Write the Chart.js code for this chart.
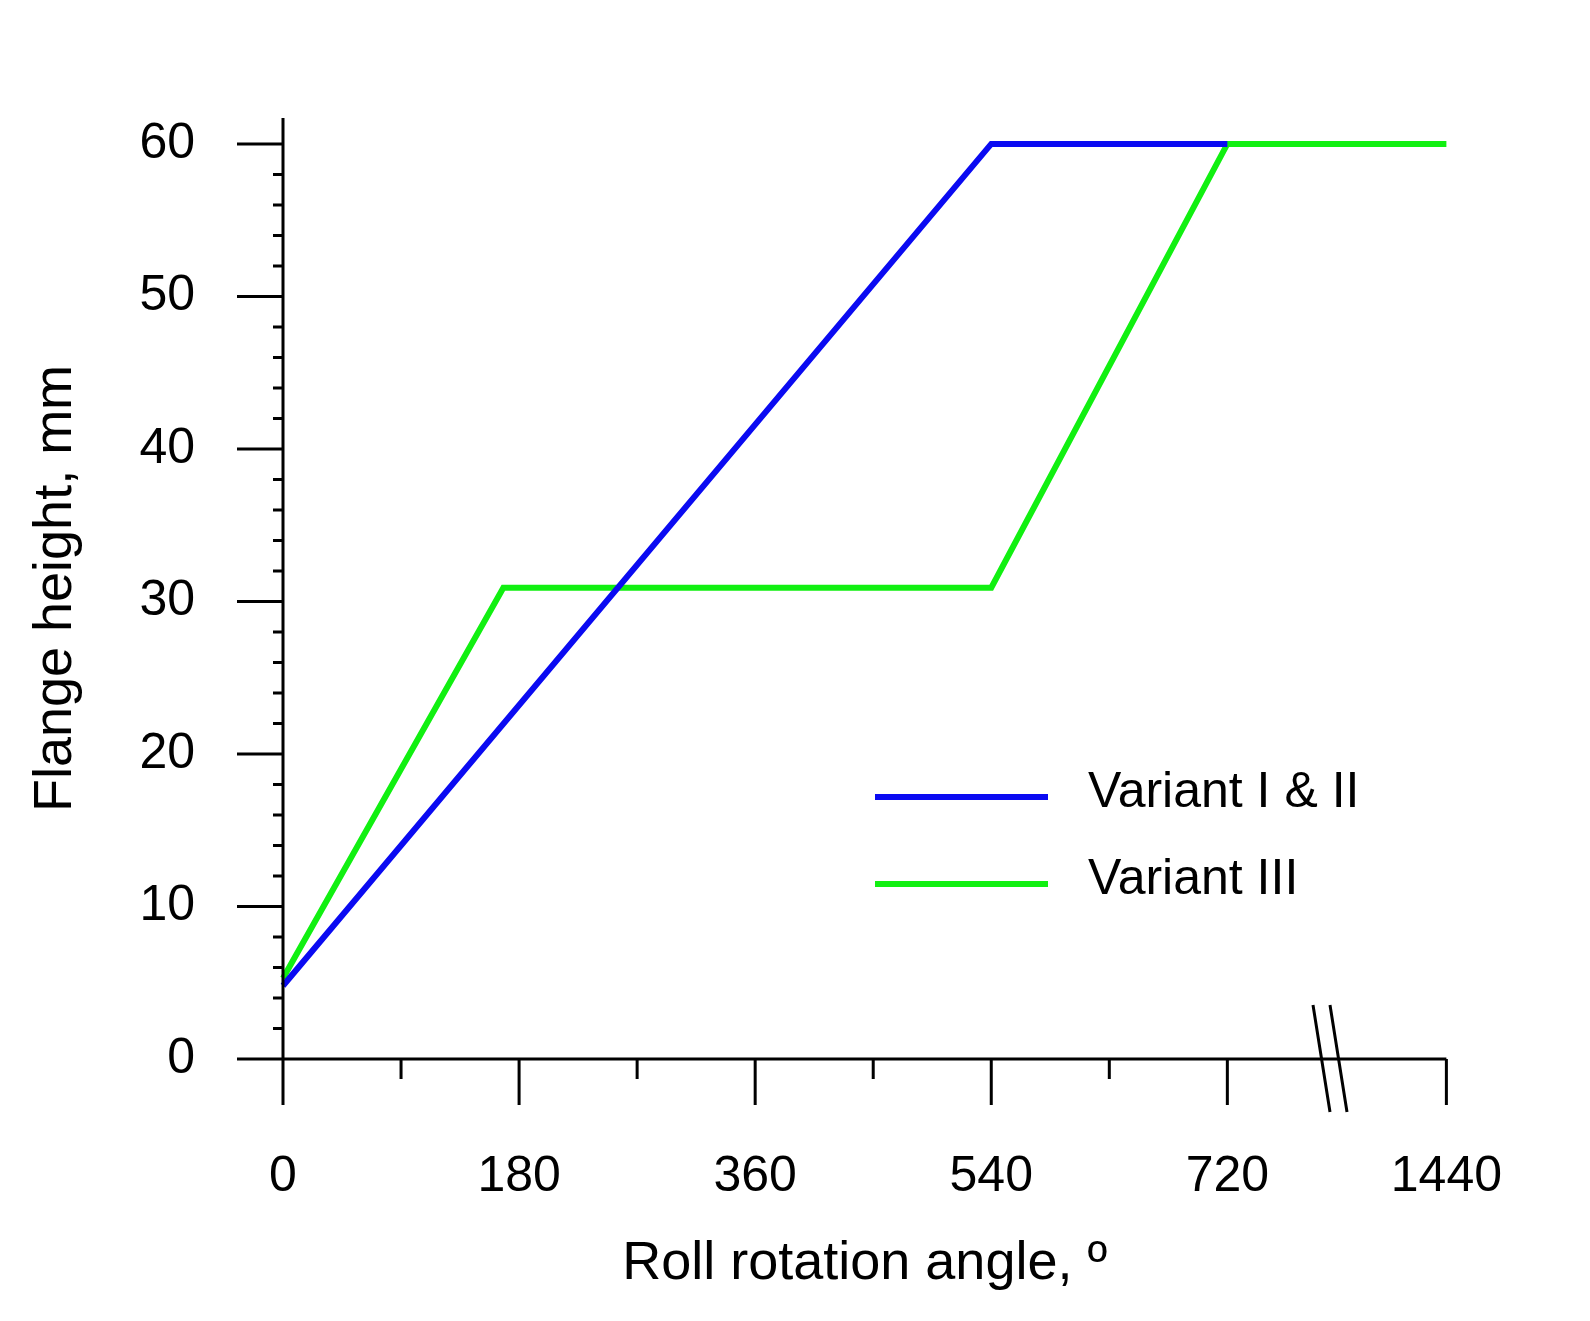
<!DOCTYPE html>
<html><head><meta charset="utf-8">
<script src="https://cdn.jsdelivr.net/npm/chart.js@4/dist/chart.umd.min.js"></script>
<style>html,body{margin:0;padding:0;background:#fff;overflow:hidden}canvas{display:block}</style>
</head><body><canvas id="c" width="1590" height="1321" style="width:1590px;height:1321px"></canvas>
<script>
// x values in axis units; 887 is the drawn position of 1440 after the axis break
const xTickValues = [0,180,360,540,720,887];
const xTickLabels = ['0','180','360','540','720','1440'];
const yTickValues = [0,10,20,30,40,50,60];
const blueX = [0,540,720];
const blueY = [4.8,60,60];
const greenX = [0,168,540,720,887];
const greenY = [5.3,30.9,30.9,60,60];
const seriesNames = ['Variant I & II','Variant III'];
const FONT = 'Liberation Sans, Arial, sans-serif';

const axesPlugin = {
  id:'axesDraw',
  afterDraw(ch){
    const c=ch.ctx, x=ch.scales.x, y=ch.scales.y;
    c.save(); c.strokeStyle='#000'; c.lineWidth=3; c.lineCap='butt';
    const x0=x.getPixelForValue(0), y0=y.getPixelForValue(0);
    c.beginPath();
    c.moveTo(x0,y.getPixelForValue(61.7)); c.lineTo(x0,y0+46);
    c.moveTo(x0-46,y0); c.lineTo(x.getPixelForValue(887),y0);
    for(let v=0;v<=60;v+=2){const p=y.getPixelForValue(v); const L=(v%10===0)?46:10; c.moveTo(x0-L,p); c.lineTo(x0,p);}
    xTickValues.forEach(v=>{const p=x.getPixelForValue(v); c.moveTo(p,y0); c.lineTo(p,y0+46);});
    [90,270,450,630].forEach(v=>{const p=x.getPixelForValue(v); c.moveTo(p,y0); c.lineTo(p,y0+20);});
    c.stroke();
    c.beginPath(); c.moveTo(1313,1005); c.lineTo(1330,1112); c.moveTo(1330,1005); c.lineTo(1347,1112); c.stroke();
    const cols=['#0a0af2','#11f011'];
    [797,884].forEach((ly,i)=>{
      c.strokeStyle=cols[i]; c.lineWidth=6; c.beginPath(); c.moveTo(875,ly); c.lineTo(1048,ly); c.stroke();
      c.fillStyle='#000'; c.font='50px '+FONT; c.textBaseline='middle'; c.textAlign='left';
      c.fillText(seriesNames[i],1088,ly-4);
    });
    c.restore();
  }
};

new Chart(document.getElementById('c'),{
  type:'line',
  data:{datasets:[
    {label:seriesNames[0],data:blueX.map((v,i)=>({x:v,y:blueY[i]})),borderColor:'#0a0af2',borderWidth:6,pointRadius:0,tension:0,clip:false},
    {label:seriesNames[1],data:greenX.map((v,i)=>({x:v,y:greenY[i]})),borderColor:'#11f011',borderWidth:6,pointRadius:0,tension:0,clip:false}
  ]},
  options:{
    responsive:false,devicePixelRatio:1,animation:false,
    layout:{padding:{left:20,right:128,top:48,bottom:20}},
    plugins:{legend:{display:false},tooltip:{enabled:false}},
    scales:{
      x:{type:'linear',min:0,max:887,
        afterBuildTicks:s=>{s.ticks=xTickValues.map(v=>({value:v}));},
        afterFit:s=>{s.height=242;},
        grid:{display:false,drawTicks:false},border:{display:false},
        ticks:{padding:88,autoSkip:false,maxRotation:0,color:'#000',font:{family:FONT,size:50},
          callback:(v)=>xTickLabels[xTickValues.indexOf(v)]},
        title:{display:true,text:'Roll rotation angle, º',color:'#000',font:{family:FONT,size:54},padding:{top:0}}
      },
      y:{type:'linear',min:0,max:61.7,
        afterBuildTicks:s=>{s.ticks=yTickValues.map(v=>({value:v}));},
        afterFit:s=>{s.width=263;},
        grid:{display:false,drawTicks:false},border:{display:false},
        ticks:{padding:88,color:'#000',font:{family:FONT,size:50}},
        title:{display:true,text:'Flange height, mm',color:'#000',font:{family:FONT,size:54},padding:{bottom:0}}
      }
    }
  },
  plugins:[axesPlugin]
});
</script></body></html>
